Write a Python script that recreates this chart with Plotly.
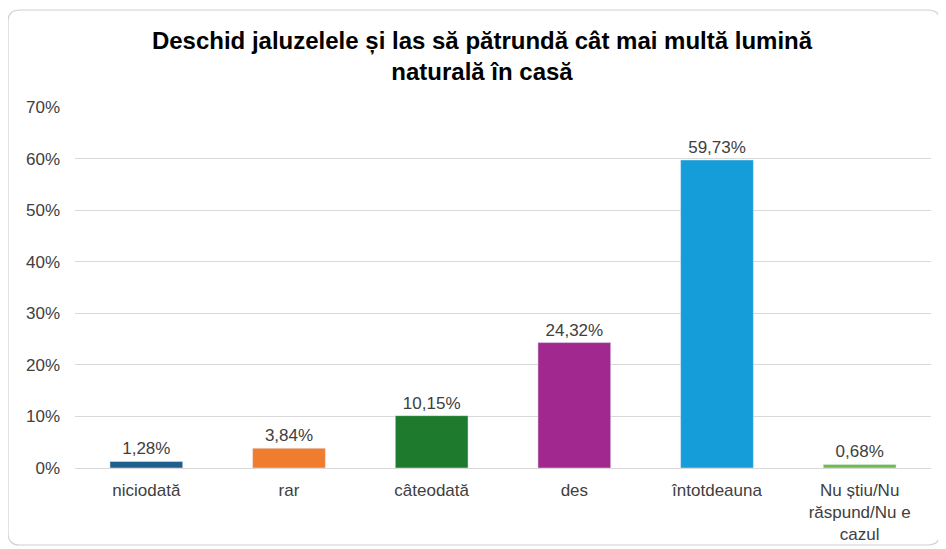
import plotly.graph_objects as go

categories = ["niciodată", "rar", "câteodată", "des", "întotdeauna", "Nu știu/Nu<br>răspund/Nu e<br>cazul"]
values = [1.28, 3.84, 10.15, 24.32, 59.73, 0.68]
colors = ["#1F5F8B", "#F07C2F", "#1E7B2E", "#A0288F", "#149DD8", "#6DBE45"]
tick_vals = [0, 10, 20, 30, 40, 50, 60, 70]
tick_text = [f"{v}%" for v in tick_vals]
labels = [f"{v:.2f}".replace(".", ",") + "%" for v in values]

OFF = 8  # page body margin
W, H = 946 - OFF, 549 - OFF
ml, mt = 75 - OFF, 107 - OFF
mr = W - (931 - OFF)
mb = H - (468 - OFF)

FONT = "Liberation Sans, Arial"

fig = go.Figure(go.Bar(
    x=categories, y=values, marker_color=colors, width=0.51,
    text=labels, textposition="outside", cliponaxis=False,
    textfont=dict(family=FONT, size=17, color="#404040"),
))

pw, ph = W - ml - mr, H - mt - mb

def P(x, y):
    x -= OFF
    y -= OFF
    return f"{(x - ml) / pw:.5f},{(H - mb - y) / ph:.5f}"

x0, y0, x1, y1, r = 8, 10, 940, 545, 12
path = (f"M {P(x0+r,y0)} L {P(x1-r,y0)} Q {P(x1,y0)} {P(x1,y0+r)} "
        f"L {P(x1,y1-r)} Q {P(x1,y1)} {P(x1-r,y1)} L {P(x0+r,y1)} "
        f"Q {P(x0,y1)} {P(x0,y1-r)} L {P(x0,y0+r)} Q {P(x0,y0)} {P(x0+r,y0)} Z")

fig.update_layout(
    width=W, height=H,
    margin=dict(l=ml, r=mr, t=mt, b=mb, autoexpand=False),
    paper_bgcolor="white", plot_bgcolor="white",
    showlegend=False,
    title=dict(
        text="<b>Deschid jaluzelele și las să pătrundă cât mai multă lumină<br>naturală în casă</b>",
        x=(482 - OFF) / W, xanchor="center", y=1 - (49 - OFF) / H, yanchor="middle",
        font=dict(family=FONT, size=24, color="#000000"),
    ),
    xaxis=dict(
        showline=False, ticks="", tickfont=dict(family=FONT, size=17, color="#404040"),
        ticklabelstandoff=10, automargin=False,
    ),
    yaxis=dict(
        range=[0, 70], tickvals=tick_vals, ticktext=tick_text,
        showgrid=True, gridcolor="#D9D9D9", gridwidth=1,
        zeroline=True, zerolinecolor="#D9D9D9", zerolinewidth=1,
        tickfont=dict(family=FONT, size=17, color="#404040"),
        ticklabelstandoff=14, automargin=False,
    ),
    shapes=[dict(type="path", xref="paper", yref="paper", path=path,
                 line=dict(color="#D0D0D0", width=1.2), layer="below")],
)

fig.write_html("out.html")
